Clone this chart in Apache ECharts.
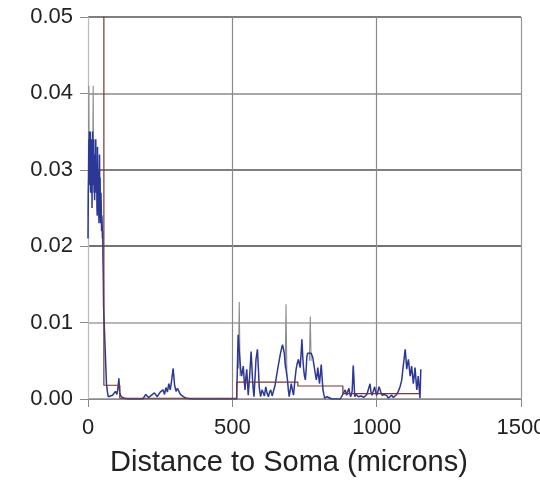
<!DOCTYPE html>
<html><head><meta charset="utf-8">
<script src="https://cdn.jsdelivr.net/npm/echarts@6/dist/echarts.min.js"></script>
<style>html,body{margin:0;padding:0;background:#fff}#c{width:540px;height:484px}</style>
</head><body><div id="c"></div>
<script>
// Blue (density) trace
const blueX = [0,1,2,3,4,5,6,7,8,9,10,11,12,13,14,15,16,17,18,19,20,21,22,23,24,25,26,27,28,29,30,31,32,33,34,35,36,37,38,39,40,41,42,43,44,45,46,47,48,49,50,51,52,53,54,56,58,60,62,64,67,70,
  75,85,95,100,104,107,110,115,125,140,160,190,200,210,220,230,240,250,260,265,270,275,280,285,290,295,300,305,310,320,330,340,360,380,400,430,460,490,515,
  520,523,526,529,532,535,538,541,544,547,550,553,555,560,565,568,570,573,575,579,582,587,590,593,596,598,603,607,611,616,620,625,629,633,638,642,648,653,658,663,667,671,674,677,680,683,687,691,694,697,700,704,708,712,716,721,725,729,732,735,738,741,744,747,750,753,756,758,761,764,767,773,776,779,782,785,788,791,794,796,799,802,805,808,811,814,817,820,828,845,874,
  891,896,900,904,907,910,915,919,924,928,933,937,942,946,951,955,960,966,971,974,977,980,984,988,993,996,1000,1004,1008,1012,1015,1019,1023,1027,1032,1036,1040,1046,1052,1058,1063,1069,1075,1081,1087,1091,1095,1097,1099,1102,1104,1107,1110,1113,1116,1119,1121,1124,1127,1130,1133,1136,1139,1142,1144,1147,1150,1153];
const blueY = [0.021,0.027,0.029,0.034,0.031,0.035,0.031,0.028,0.035,0.027,0.031,0.034,0.029,0.033,0.025,0.031,0.035,0.028,0.032,0.030,0.034,0.027,0.030,0.026,0.032,0.028,0.029,0.034,0.027,0.030,0.031,0.025,0.024,0.033,0.028,0.026,0.030,0.025,0.023,0.028,0.032,0.025,0.029,0.024,0.023,0.027,0.025,0.022,0.024,0.023,0.021,0.022,0.018,0.016,0.012,0.010,0.008,0.006,0.004,0.002,0.001,0.0003,
  0.0002,0.0005,0.0010,0.0006,0.0015,0.0027,0.0008,0.0003,0.0001,0,0,0,0.0006,0.0002,0.0005,0.0008,0.0003,0.0009,0.0012,0.0006,0.0015,0.0009,0.0020,0.0012,0.0025,0.0040,0.0018,0.0010,0.0014,0.0006,0.0003,0.0001,0,0,0,0,0,0,0,
  0.0084,0.0068,0.0052,0.0038,0.0030,0.0036,0.0043,0.0025,0.0012,0.0028,0.0039,0.0018,0.0005,0.0030,0.0062,0.0041,0.0025,0.0010,0.0003,0.0030,0.0052,0.0065,0.0042,0.0016,0.0008,0.0003,0.0012,0.0010,0.0004,0.0016,0.0008,0.0003,0.0009,0.0012,0.0004,0.0005,0.0018,0.0030,0.0041,0.0052,0.0060,0.0067,0.0071,0.0073,0.0060,0.0047,0.0036,0.0025,0.0012,0.0003,0.0010,0.0020,0.0012,0.0005,0.0022,0.0039,0.0047,0.0052,0.0046,0.0041,0.0058,0.0078,0.0055,0.0039,0.0030,0.0025,0.0040,0.0055,0.0060,0.0062,0.0058,0.0060,0.0057,0.0054,0.0046,0.0039,0.0032,0.0025,0.0033,0.0041,0.0030,0.0020,0.0033,0.0045,0.0028,0.0012,0.0006,0.0001,0.0003,0,0,
  0.0012,0.0005,0.0010,0.0014,0.0007,0.0003,0.0010,0.0043,0.0003,0.0006,0.0008,0.0003,0.0001,0.0004,0.0005,0.0002,0.0001,0.0006,0.0012,0.0016,0.0020,0.0010,0.0005,0.0010,0.0016,0.0010,0.0005,0.0009,0.0016,0.0012,0.0008,0.0005,0.0003,0.0006,0.0008,0.0004,0.0001,0.0003,0.0005,0.0002,0.0003,0.0006,0.0010,0.0016,0.0025,0.0040,0.0052,0.0060,0.0065,0.0050,0.0039,0.0046,0.0052,0.0041,0.0030,0.0036,0.0043,0.0032,0.0020,0.0030,0.0041,0.0026,0.0012,0.0022,0.0030,0.0015,0.0001,0.0039];
// Gray spikes (upper envelope), null breaks between spikes
const grayX = [1,2,3,4,5, 6, 16,17,18,19,20, 21, 521,524,527, 528, 683,686,689, 690, 767,770,773, 774, 917,919,921];
const grayY = [0.024,0.036,0.041,0.032,0.028, null, 0.030,0.036,0.041,0.033,0.030, null, 0.004,0.0127,0.003, null, 0.004,0.0124,0.003, null, 0.005,0.0108,0.005, null, 0.002,0.0045,0.002];
// Step (mean) trace
const stepX = [0,55,110,515,727,883,1150];
const stepY = [0.06,0.0018,0.0001,0.0022,0.0017,0.0007,0.0007];
const xTicks = [0,500,1000,1500];
const yTicks = [0,0.01,0.02,0.03,0.04,0.05];

const pair = (xs, ys) => xs.map((x,i)=>[x, ys[i] === null ? '-' : ys[i]]);
const font = '"Liberation Sans", Arial, sans-serif';
const chart = echarts.init(document.getElementById('c'));
chart.setOption({
  animation:false,
  backgroundColor:'#fff',
  grid:{left:88,right:19,top:17,bottom:85,containLabel:false,outerBoundsMode:'none'},
  xAxis:{type:'value',min:0,max:1500,interval:500,
    axisLine:{show:true,onZero:false,lineStyle:{color:'#8a8a8a',width:1.2}},
    axisTick:{show:true,length:8,lineStyle:{color:'#8a8a8a'}},
    axisLabel:{margin:18,fontSize:22,color:'#222',fontFamily:font,formatter:v=>xTicks.includes(v)?String(v):''},
    splitLine:{show:true,lineStyle:{color:['#bbb','#8a8a8a','#8a8a8a','#999'],width:1.2}}},
  yAxis:{type:'value',min:0,max:0.05,interval:0.01,
    axisLine:{show:false},
    axisTick:{show:true,length:8,lineStyle:{color:'#8a8a8a'}},
    axisLabel:{margin:15,fontSize:22,color:'#222',fontFamily:font,formatter:v=>yTicks.some(t=>Math.abs(t-v)<1e-9)?v.toFixed(2):''},
    splitLine:{show:true,lineStyle:{color:['#8a8a8a','#a0a0a0','#444','#555','#8a8a8a','#555'],width:1.5}}},
  graphic:[{type:'text',x:289,y:463,style:{text:'Distance to Soma (microns)',textAlign:'center',textVerticalAlign:'middle',fontSize:29,fontFamily:font,fill:'#222'}}],
  series:[
    {type:'line',data:pair(grayX,grayY),showSymbol:false,connectNulls:false,lineStyle:{color:'#8c8c8c',width:1.1},z:2,clip:true},
    {type:'line',data:pair(blueX,blueY),showSymbol:false,lineStyle:{color:'#2b3896',width:1.5},z:3,clip:true},
    {type:'line',data:pair(stepX,stepY),step:'end',showSymbol:false,lineStyle:{color:'#7a3434',width:1.2},z:4,clip:true}
  ]
});
</script></body></html>
